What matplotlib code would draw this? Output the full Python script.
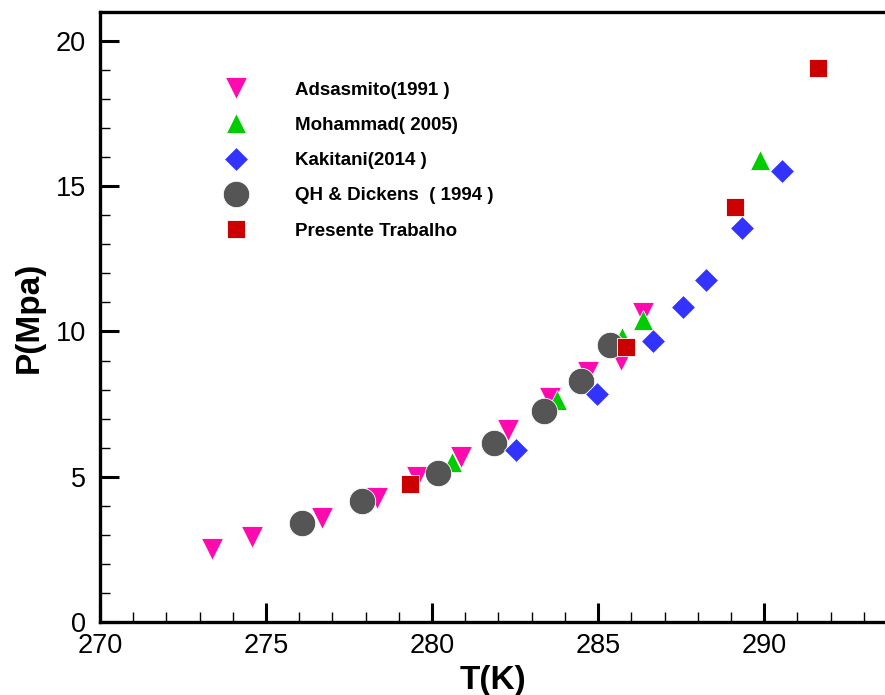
import matplotlib.pyplot as plt
from matplotlib.ticker import MultipleLocator

plt.rcParams['font.family'] = ['Liberation Sans', 'DejaVu Sans']

# Hydrate equilibrium data: temperature (K) vs pressure (MPa)
adsasmito_T = [273.38, 274.58, 276.69, 278.34, 279.55, 280.87, 282.29, 283.55, 284.70, 285.69, 286.36]
adsasmito_P = [2.53, 2.92, 3.57, 4.26, 4.98, 5.67, 6.60, 7.70, 8.60, 9.01, 10.62]

mohammad_T = [280.60, 283.77, 285.72, 286.36, 289.88]
mohammad_P = [5.50, 7.63, 9.80, 10.38, 15.89]

kakitani_T = [282.53, 284.97, 286.66, 287.56, 288.25, 289.34, 290.54]
kakitani_P = [5.91, 7.84, 9.66, 10.84, 11.76, 13.55, 15.51]

dickens_T = [276.08, 277.89, 280.18, 281.87, 283.37, 284.49, 285.36]
dickens_P = [3.40, 4.16, 5.12, 6.15, 7.25, 8.29, 9.55]

presente_T = [279.34, 285.84, 289.13, 291.63]
presente_P = [4.74, 9.46, 14.27, 19.06]

fig = plt.figure(figsize=(8.85, 6.95), dpi=100)
ax = fig.add_axes([0.113, 0.105, 0.887, 0.878])

h_ads, = ax.plot(adsasmito_T, adsasmito_P, 'v', color='#ff0aae', ms=16, mec='white', mew=0.6,
                 linestyle='none', label='Adsasmito(1991 )')
h_moh, = ax.plot(mohammad_T, mohammad_P, '^', color='#00cc00', ms=15, mec='white', mew=0.6,
                 linestyle='none', label='Mohammad( 2005)')
h_qh, = ax.plot(dickens_T, dickens_P, 'o', color='#555555', ms=19, mec='white', mew=0.6,
                linestyle='none', label='QH & Dickens  ( 1994 )')
h_kak, = ax.plot(kakitani_T, kakitani_P, 'D', color='#3333ff', ms=12.7, mec='white', mew=0.6,
                 linestyle='none', label='Kakitani(2014 )')
h_pt, = ax.plot(presente_T, presente_P, 's', color='#cc0000', ms=13, mec='white', mew=0.6,
                linestyle='none', label='Presente Trabalho')

ax.set_xlim(270, 293.64)
ax.set_ylim(0, 21)

ax.xaxis.set_major_locator(MultipleLocator(5))
ax.xaxis.set_minor_locator(MultipleLocator(1))
ax.yaxis.set_major_locator(MultipleLocator(5))
ax.yaxis.set_minor_locator(MultipleLocator(1))

ax.tick_params(which='both', direction='in', top=False, right=False, labelsize=19.5)
ax.tick_params(which='major', length=14, width=2.2)
ax.tick_params(which='minor', length=7, width=1)
ax.tick_params(axis='x', pad=8)
ax.tick_params(axis='y', pad=10)

for side in ['left', 'bottom', 'top']:
    ax.spines[side].set_linewidth(2.4)
ax.spines['right'].set_visible(False)

ax.set_xlabel('T(K)', fontsize=24, fontweight='bold', labelpad=4)
ax.set_ylabel('P(Mpa)', fontsize=24, fontweight='bold', labelpad=8)

leg = ax.legend(handles=[h_ads, h_moh, h_kak, h_qh, h_pt], loc='upper left',
                bbox_to_anchor=(0.143, 0.886), frameon=False, numpoints=1,
                borderpad=0, borderaxespad=0, handlelength=2.5, handletextpad=1.9,
                labelspacing=0.97, prop={'size': 13.5, 'weight': 'bold'})

plt.savefig('out.png', dpi=100)
plt.close()
